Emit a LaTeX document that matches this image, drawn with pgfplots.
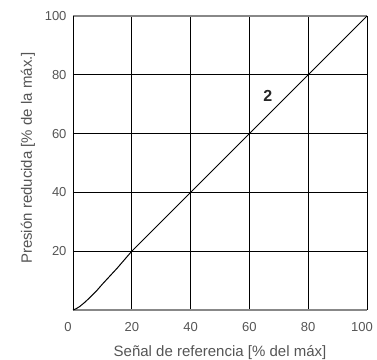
\documentclass[border=0pt]{standalone}
\usepackage{pgfplots}
\pgfplotsset{compat=1.18}
\usepackage{fontspec}
\setmainfont{Liberation Sans}
\definecolor{txt}{HTML}{555555}
\definecolor{ax}{HTML}{888888}
\begin{document}
\begin{tikzpicture}
\begin{axis}[
  scale only axis,
  width=294pt, height=294pt,
  xmin=0, xmax=100, ymin=0, ymax=100,
  xtick={20,40,60,80},
  ytick={20,40,60,80,100},
  extra x ticks={0,100},
  extra x tick labels={0,100},
  extra x tick style={grid=none, xticklabel style={xshift=-5pt}},
  grid=major,
  grid style={black, line width=0.6pt},
  axis line style={black, line width=0.8pt},
  separate axis lines,
  x axis line style={ax, line width=1.4pt},
  tick style={draw=none},
  tick label style={font=\fontsize{13}{15}\selectfont, text=txt},
  /pgf/number format/assume math mode=true,
  xticklabel style={yshift=-9pt},
  yticklabel style={xshift=-3pt},
  xlabel={Señal de referencia [\% del máx]},
  ylabel={Presión reducida [\% de la máx.]},
  label style={font=\fontsize{15}{17}\selectfont, text=txt},
  xlabel style={at={(axis description cs:0.5,0)}, anchor=base, yshift=-47pt},
  ylabel style={yshift=3pt, xshift=5pt},
  clip=false,
]
\addplot[black, line width=1pt] coordinates {
(0,0) (1,0.4) (2.3,1.2) (4,2.6) (5.7,4.2) (8,6.5) (10,8.8) (12.5,11.5) (15,14.2) (17.5,17.1) (20,20) (100,100)};
\node[font=\bfseries\fontsize{16}{17}\selectfont, text=black!85] at (axis cs:66.3,72.8) {2};
\end{axis}
\pgfresetboundingbox
\path (current axis.south west) ++(-73pt,-50pt) coordinate (bl);
\path (current axis.north east) ++(10pt,16pt) coordinate (tr);
\path[use as bounding box] (bl) rectangle (tr);
\end{tikzpicture}
\end{document}
